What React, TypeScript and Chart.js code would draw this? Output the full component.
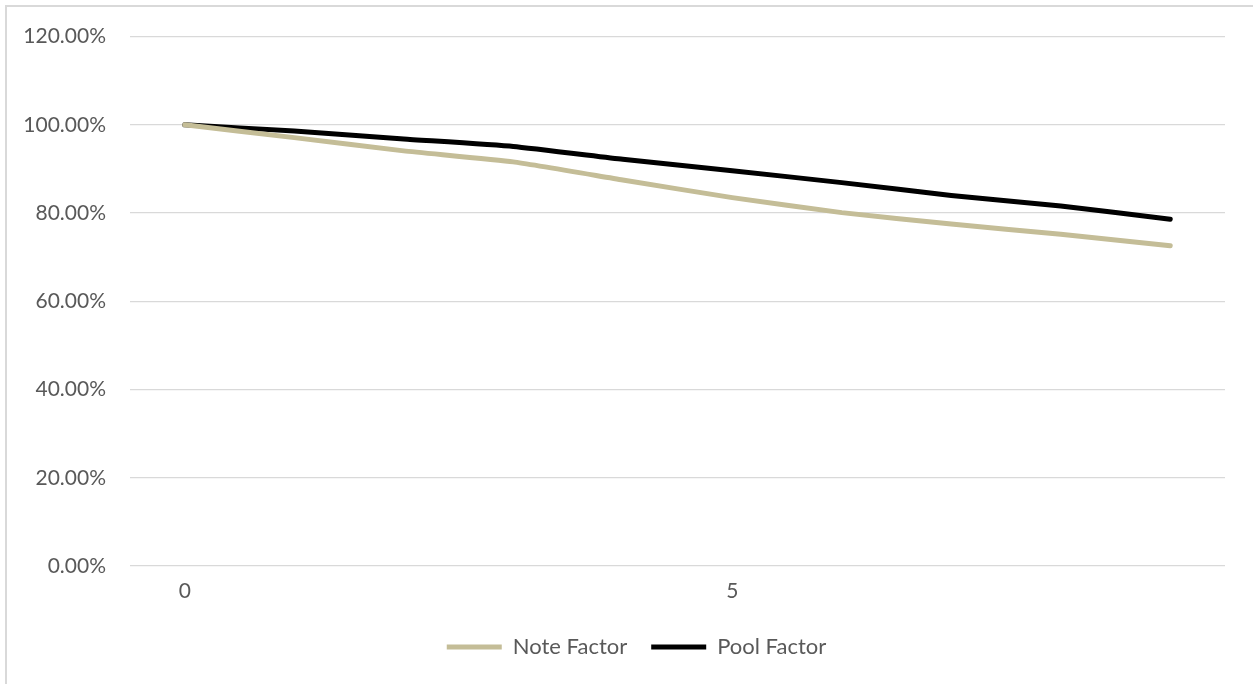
import React, { useEffect, useRef } from "react";
import { Chart, registerables } from "chart.js";

Chart.register(...registerables);

const categories = ["0", "1", "2", "3", "4", "5", "6", "7", "8", "9"];
const noteFactor = [100, 97.1, 94.1, 91.6, 87.5, 83.5, 80.1, 77.5, 75.2, 72.6];
const poolFactor = [100, 98.6, 96.8, 95.1, 92.2, 89.6, 86.9, 84.0, 81.6, 78.6];
const yTicks = [0, 20, 40, 60, 80, 100, 120];

const FONT = "Lato, 'Liberation Sans', sans-serif";

const legendShift = {
  id: "legendShift",
  afterLayout(chart: any) {
    const l = chart.legend;
    if (l) {
      l.left += 19;
      l.right += 19;
    }
  },
};

export default function App() {
  const ref = useRef<HTMLCanvasElement | null>(null);

  useEffect(() => {
    if (!ref.current) return;
    const chart = new Chart(ref.current, {
      type: "line",
      data: {
        labels: categories,
        datasets: [
          {
            label: "Note Factor",
            data: noteFactor,
            borderColor: "#C4BD97",
            backgroundColor: "#C4BD97",
            borderWidth: 5,
            borderCapStyle: "round",
            borderJoinStyle: "round",
            pointRadius: 0,
            pointStyle: "line",
            tension: 0.15,
          },
          {
            label: "Pool Factor",
            data: poolFactor,
            borderColor: "#000000",
            backgroundColor: "#000000",
            borderWidth: 5,
            borderCapStyle: "round",
            borderJoinStyle: "round",
            pointRadius: 0,
            pointStyle: "line",
            tension: 0.15,
          },
        ],
      },
      plugins: [legendShift],
      options: {
        animation: false,
        responsive: false,
        maintainAspectRatio: false,
        layout: { padding: { left: 10, right: 28, top: 36, bottom: 16 } },
        plugins: {
          tooltip: { enabled: false },
          legend: {
            display: true,
            position: "bottom",
            labels: {
              usePointStyle: true,
              pointStyleWidth: 55,
              padding: 24,
              color: "#595959",
              font: { family: FONT, size: 22 },
            },
          },
        },
        scales: {
          x: {
            type: "category",
            offset: true,
            afterFit: (s: any) => {
              s.height = 46;
            },
            grid: { display: false, drawTicks: false },
            border: { display: false },
            ticks: {
              autoSkip: false,
              maxRotation: 0,
              padding: 13,
              color: "#595959",
              font: { family: FONT, size: 21 },
              callback: (_v: any, i: number) => (i % 5 === 0 ? categories[i] : ""),
            },
          },
          y: {
            min: yTicks[0],
            max: yTicks[yTicks.length - 1],
            afterFit: (s: any) => {
              s.width = 120;
            },
            afterBuildTicks: (s: any) => {
              s.ticks = yTicks.map((v) => ({ value: v }));
            },
            grid: { color: "#d9d9d9", lineWidth: 1.3, drawTicks: false },
            border: { display: false },
            ticks: {
              padding: 24,
              color: "#595959",
              font: { family: FONT, size: 21 },
              callback: (v: any) => Number(v).toFixed(2) + "%",
            },
          },
        },
      },
    });
    return () => chart.destroy();
  }, []);

  return (
    <div style={{ position: "fixed", left: 0, top: 0, width: 1253, height: 684, background: "#fff" }}>
      <div
        style={{
          position: "absolute",
          left: 5,
          top: 5,
          width: 1253,
          height: 684,
          borderLeft: "2px solid #d9d9d9",
          borderTop: "2px solid #d9d9d9",
        }}
      />
      <canvas ref={ref} width={1253} height={684} style={{ position: "absolute", left: 0, top: 0 }} />
    </div>
  );
}
